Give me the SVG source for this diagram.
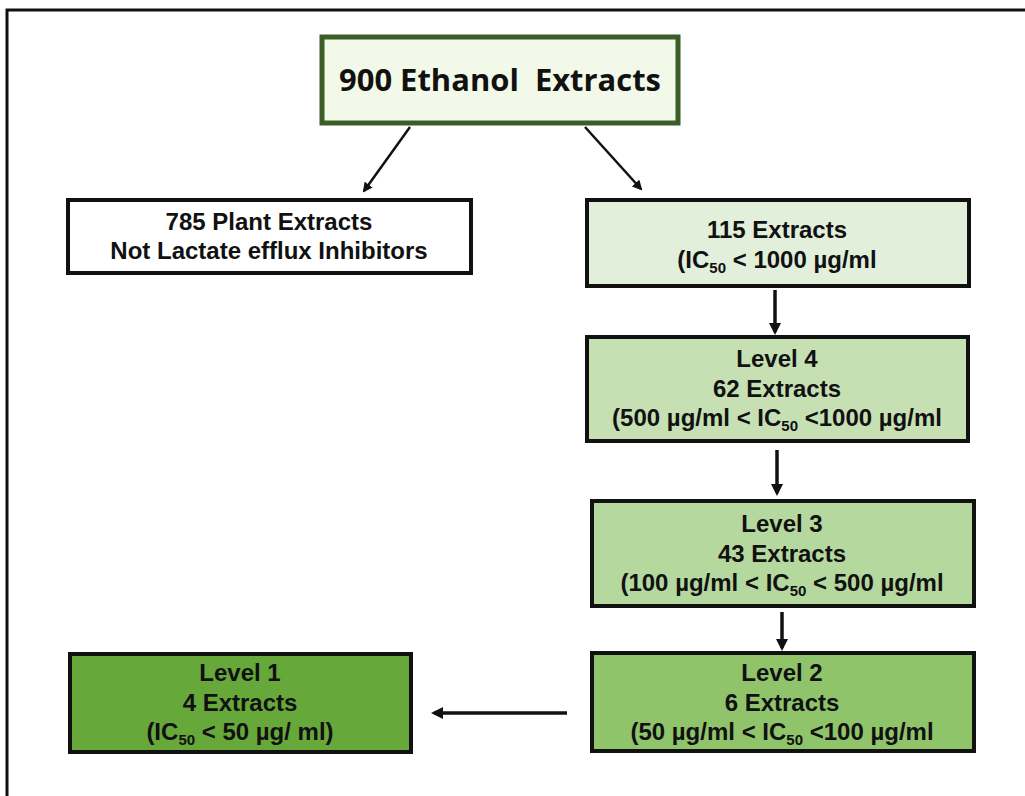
<svg xmlns="http://www.w3.org/2000/svg" width="1025" height="796" viewBox="0 0 1025 796">
<style>
.t{font-family:"Liberation Sans",Arial,sans-serif;font-weight:bold;font-size:24px;fill:#111;text-anchor:middle}
.s{font-size:15px}
.b{stroke:#111;stroke-width:4}
.c{stroke:#111;stroke-width:2.5;fill:none}
.c3{stroke:#111;stroke-width:3.5;fill:none}
</style>
<defs>
<marker id="ah" markerWidth="10" markerHeight="10" refX="8" refY="5" orient="auto" markerUnits="userSpaceOnUse" viewBox="0 0 10 10">
<path d="M0,0 L10,5 L0,10 Z" fill="#111"/>
</marker>
<marker id="ah2" markerWidth="12" markerHeight="12" refX="9" refY="6" orient="auto" markerUnits="userSpaceOnUse" viewBox="0 0 12 12">
<path d="M0,0 L12,6 L0,12 Z" fill="#111"/>
</marker>
</defs>
<rect x="0" y="0" width="1025" height="796" fill="#fff"/>
<path d="M7,796 V10 H1025" fill="none" stroke="#111" stroke-width="3"/>
<g id="connectors">
<line x1="410" y1="127" x2="364" y2="191" class="c" marker-end="url(#ah)"/>
<line x1="585" y1="127" x2="641" y2="189" class="c" marker-end="url(#ah)"/>
<line x1="775" y1="290" x2="775" y2="332" class="c3" marker-end="url(#ah2)"/>
<line x1="777" y1="450" x2="777" y2="493" class="c3" marker-end="url(#ah2)"/>
<line x1="782" y1="612" x2="782" y2="648" class="c3" marker-end="url(#ah2)"/>
<line x1="567" y1="713" x2="434" y2="713" class="c3" marker-end="url(#ah2)"/>
</g>
<g id="n900">
<rect x="322" y="37" width="356" height="86" fill="#f3f9e8" stroke="#3d5d28" stroke-width="5"/>
<text x="500" y="91" xml:space="preserve" style="font-family:'Open Sans','Noto Sans',sans-serif;font-weight:bold;font-size:30px;fill:#111" text-anchor="middle" textLength="322" lengthAdjust="spacingAndGlyphs">900 Ethanol  Extracts</text>
</g>
<g id="n785">
<rect x="68" y="200" width="403" height="73" fill="#fff" class="b"/>
<text class="t" x="269" y="230">785 Plant Extracts</text>
<text class="t" x="269" y="259">Not Lactate efflux Inhibitors</text>
</g>
<g id="n115">
<rect x="587" y="200" width="382" height="86" fill="#e2efda" class="b"/>
<text class="t" x="777" y="238">115 Extracts</text>
<text class="t" x="777" y="268">(IC<tspan class="s" dy="5">50</tspan><tspan dy="-5"> &lt; 1000 µg/ml</tspan></text>
</g>
<g id="level4">
<rect x="587" y="337" width="381" height="104" fill="#c6e0b4" class="b"/>
<text class="t" x="777" y="367">Level 4</text>
<text class="t" x="777" y="397">62 Extracts</text>
<text class="t" x="777" y="426">(500 µg/ml &lt; IC<tspan class="s" dy="5">50</tspan><tspan dy="-5"> &lt;1000 µg/ml</tspan></text>
</g>
<g id="level3">
<rect x="592" y="501" width="382" height="105" fill="#b4d89d" class="b"/>
<text class="t" x="782" y="532">Level 3</text>
<text class="t" x="782" y="562">43 Extracts</text>
<text class="t" x="782" y="591">(100 µg/ml &lt; IC<tspan class="s" dy="5">50</tspan><tspan dy="-5"> &lt; 500 µg/ml</tspan></text>
</g>
<g id="level2">
<rect x="592" y="653" width="382" height="98" fill="#8fc46b" class="b"/>
<text class="t" x="782" y="681">Level 2</text>
<text class="t" x="782" y="711">6 Extracts</text>
<text class="t" x="782" y="740">(50 µg/ml &lt; IC<tspan class="s" dy="5">50</tspan><tspan dy="-5"> &lt;100 µg/ml</tspan></text>
</g>
<g id="level1">
<rect x="70" y="654" width="341" height="98" fill="#67a83b" class="b"/>
<text class="t" x="240" y="681">Level 1</text>
<text class="t" x="240" y="711">4 Extracts</text>
<text class="t" x="240" y="740">(IC<tspan class="s" dy="5">50</tspan><tspan dy="-5"> &lt; 50 µg/ ml)</tspan></text>
</g>
</svg>
